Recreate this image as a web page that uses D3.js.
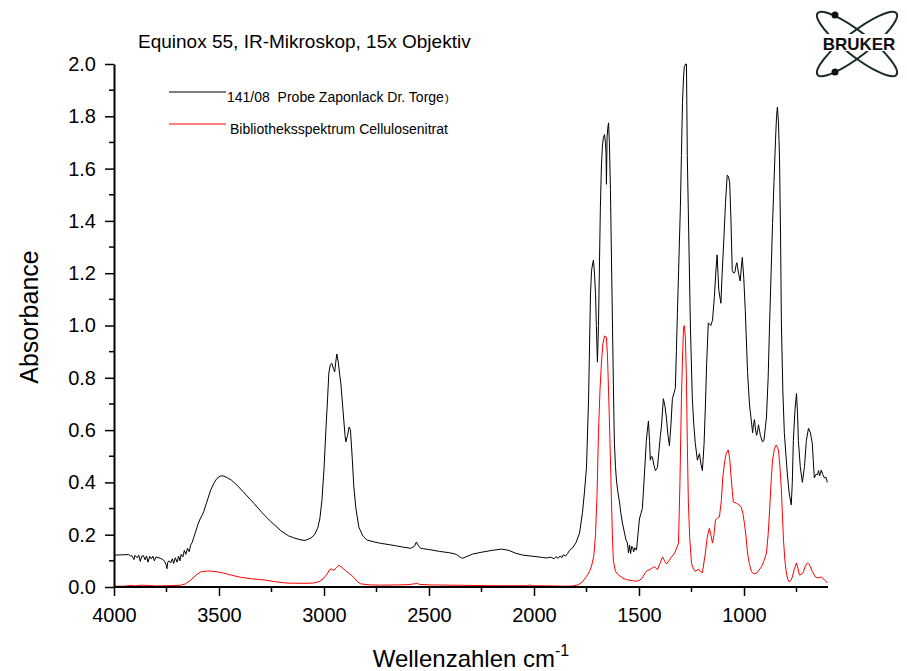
<!DOCTYPE html>
<html>
<head>
<meta charset="utf-8">
<script src="https://cdn.jsdelivr.net/npm/d3@7"></script>
<style>
  html, body { margin: 0; padding: 0; background: #fff; }
  svg { display: block; font-family: "Liberation Sans", Arial, sans-serif; }
  .legend-label { white-space: pre; }
</style>
</head>
<body>
<svg id="chart" width="907" height="671"></svg>
<script>
// Sample spectrum (black): [wavenumber cm-1, absorbance]
const sampleSpectrum = [
  [4000,0.122],[3960,0.123],[3930,0.124],[3920,0.118],[3915,0.12],[3905,0.105],[3900,0.121],[3890,0.112],
  [3882,0.122],[3875,0.098],[3868,0.118],[3860,0.12],[3852,0.104],[3845,0.119],[3838,0.095],[3830,0.117],
  [3822,0.108],[3815,0.118],[3808,0.1],[3800,0.115],[3790,0.112],[3780,0.11],[3770,0.106],[3760,0.1],
  [3752,0.085],[3748,0.07],[3744,0.095],[3738,0.1],[3730,0.092],[3722,0.108],[3716,0.09],[3708,0.112],
  [3700,0.095],[3692,0.118],[3686,0.1],[3680,0.125],[3672,0.115],[3665,0.14],[3658,0.125],[3650,0.148],
  [3642,0.135],[3635,0.16],[3628,0.17],[3620,0.19],[3610,0.215],[3600,0.24],[3590,0.26],[3580,0.275],
  [3572,0.29],[3560,0.32],[3540,0.37],[3524,0.397],[3510,0.415],[3495,0.424],[3480,0.425],[3460,0.418],
  [3440,0.408],[3415,0.39],[3380,0.36],[3334,0.32],[3290,0.28],[3253,0.25],[3205,0.215],[3170,0.196],
  [3144,0.188],[3110,0.18],[3090,0.178],[3063,0.187],[3045,0.2],[3030,0.225],[3020,0.26],[3010,0.33],
  [3000,0.45],[2991,0.6],[2983,0.72],[2977,0.818],[2970,0.85],[2963,0.856],[2955,0.835],[2949,0.823],
  [2944,0.86],[2939,0.891],[2932,0.86],[2925,0.81],[2920,0.78],[2910,0.68],[2900,0.58],[2896,0.555],
  [2888,0.58],[2880,0.612],[2874,0.6],[2866,0.5],[2858,0.383],[2848,0.3],[2834,0.229],[2815,0.195],
  [2796,0.18],[2760,0.172],[2730,0.167],[2690,0.162],[2654,0.157],[2620,0.152],[2587,0.148],[2570,0.155],
  [2560,0.172],[2552,0.16],[2540,0.148],[2525,0.146],[2497,0.143],[2450,0.136],[2402,0.131],[2370,0.125],
  [2350,0.113],[2340,0.11],[2325,0.115],[2292,0.126],[2250,0.133],[2200,0.14],[2154,0.145],[2120,0.14],
  [2090,0.13],[2054,0.122],[2000,0.117],[1960,0.113],[1940,0.111],[1920,0.114],[1905,0.108],[1895,0.116],
  [1885,0.11],[1875,0.119],[1868,0.112],[1860,0.123],[1850,0.118],[1840,0.128],[1831,0.14],[1816,0.15],
  [1800,0.17],[1783,0.206],[1769,0.286],[1760,0.36],[1750,0.458],[1740,0.723],[1731,1.12],[1726,1.21],
  [1720,1.24],[1717,1.25],[1712,1.2],[1707,1.12],[1703,1.0],[1698,0.86],[1693,1.0],[1688,1.25],
  [1684,1.45],[1679,1.61],[1674,1.69],[1669,1.72],[1664,1.73],[1660,1.7],[1657,1.66],[1655,1.54],
  [1652,1.72],[1648,1.76],[1645,1.775],[1641,1.7],[1636,1.52],[1631,1.25],[1626,0.99],[1621,0.72],
  [1617,0.55],[1612,0.46],[1607,0.405],[1600,0.36],[1593,0.325],[1586,0.28],[1579,0.245],[1569,0.207],
  [1562,0.18],[1555,0.168],[1550,0.13],[1545,0.16],[1540,0.128],[1535,0.155],[1531,0.153],[1525,0.135],
  [1520,0.15],[1512,0.141],[1505,0.2],[1498,0.26],[1491,0.28],[1484,0.3],[1475,0.42],[1465,0.56],
  [1460,0.6],[1455,0.635],[1450,0.56],[1446,0.485],[1441,0.5],[1436,0.497],[1430,0.47],[1422,0.445],
  [1417,0.45],[1412,0.458],[1405,0.52],[1398,0.58],[1393,0.615],[1384,0.72],[1376,0.69],[1369,0.643],
  [1362,0.58],[1355,0.54],[1348,0.62],[1341,0.72],[1334,0.74],[1327,0.76],[1322,0.9],[1317,1.05],
  [1310,1.25],[1303,1.45],[1298,1.65],[1293,1.85],[1288,1.95],[1284,1.99],[1278,2.0],[1274,2.0],
  [1270,1.65],[1262,1.3],[1255,0.99],[1246,0.72],[1239,0.62],[1232,0.55],[1222,0.485],[1212,0.51],
  [1205,0.47],[1198,0.445],[1190,0.55],[1184,0.69],[1178,0.85],[1170,1.01],[1158,1.0],[1150,1.02],
  [1141,1.11],[1133,1.22],[1128,1.27],[1124,1.2],[1120,1.135],[1110,1.085],[1104,1.2],[1096,1.33],
  [1088,1.47],[1080,1.575],[1074,1.57],[1068,1.545],[1062,1.4],[1056,1.21],[1049,1.2],[1043,1.205],
  [1038,1.23],[1034,1.24],[1026,1.2],[1018,1.17],[1013,1.22],[1008,1.26],[1001,1.18],[994,1.06],
  [983,0.82],[974,0.7],[964,0.627],[959,0.59],[955,0.62],[950,0.64],[945,0.6],[940,0.58],
  [935,0.6],[931,0.62],[922,0.58],[912,0.555],[905,0.56],[893,0.65],[885,0.8],[878,1.01],
  [871,1.2],[864,1.39],[857,1.55],[850,1.71],[845,1.8],[841,1.835],[836,1.78],[831,1.645],
  [826,1.35],[822,1.01],[815,0.75],[808,0.59],[800,0.5],[794,0.436],[785,0.36],[775,0.314],
  [770,0.4],[765,0.56],[757,0.68],[750,0.74],[745,0.66],[741,0.56],[732,0.46],[722,0.4],
  [712,0.46],[703,0.56],[693,0.607],[684,0.59],[675,0.55],[670,0.48],[665,0.417],[658,0.43],
  [650,0.43],[645,0.445],[640,0.425],[632,0.447],[625,0.43],[617,0.417],[610,0.42],[603,0.4]
];

// Library reference spectrum (red): cellulose nitrate
const librarySpectrum = [
  [4000,0.003],[3950,0.003],[3920,0.006],[3900,0.004],[3870,0.007],[3840,0.006],[3800,0.004],[3750,0.005],
  [3700,0.006],[3681,0.007],[3660,0.012],[3634,0.027],[3610,0.045],[3586,0.058],[3560,0.061],[3539,0.061],
  [3510,0.058],[3477,0.053],[3440,0.045],[3396,0.037],[3340,0.031],[3286,0.027],[3230,0.02],[3177,0.015],
  [3100,0.014],[3049,0.015],[3020,0.022],[3001,0.034],[2985,0.05],[2972,0.068],[2963,0.068],[2953,0.063],
  [2940,0.075],[2929,0.083],[2915,0.075],[2891,0.058],[2870,0.045],[2858,0.037],[2840,0.02],[2825,0.012],
  [2780,0.008],[2730,0.007],[2650,0.008],[2600,0.009],[2570,0.012],[2558,0.014],[2545,0.01],[2500,0.008],
  [2400,0.007],[2300,0.006],[2200,0.005],[2100,0.005],[2030,0.005],[2021,0.008],[2010,0.005],[1900,0.004],
  [1850,0.003],[1816,0.004],[1790,0.008],[1769,0.02],[1750,0.04],[1735,0.06],[1726,0.08],[1715,0.12],
  [1707,0.2],[1700,0.35],[1693,0.59],[1686,0.75],[1679,0.856],[1672,0.93],[1664,0.96],[1655,0.955],
  [1650,0.88],[1645,0.75],[1638,0.55],[1631,0.325],[1626,0.18],[1622,0.1],[1612,0.06],[1603,0.05],
  [1580,0.035],[1560,0.028],[1530,0.024],[1512,0.022],[1495,0.027],[1484,0.035],[1470,0.055],[1465,0.06],
  [1446,0.068],[1427,0.078],[1412,0.067],[1400,0.09],[1388,0.115],[1378,0.1],[1369,0.088],[1358,0.1],
  [1346,0.114],[1330,0.13],[1322,0.146],[1312,0.167],[1305,0.4],[1298,0.72],[1292,0.9],[1288,0.99],
  [1284,1.0],[1279,0.95],[1274,0.79],[1270,0.55],[1265,0.325],[1258,0.18],[1250,0.09],[1240,0.068],
  [1232,0.06],[1217,0.068],[1205,0.058],[1198,0.055],[1184,0.13],[1175,0.19],[1165,0.225],[1158,0.2],
  [1150,0.168],[1143,0.2],[1136,0.256],[1125,0.265],[1117,0.268],[1108,0.33],[1101,0.42],[1092,0.48],
  [1085,0.51],[1075,0.524],[1068,0.49],[1063,0.436],[1056,0.37],[1051,0.325],[1036,0.32],[1025,0.315],
  [1013,0.306],[1005,0.28],[998,0.244],[990,0.19],[983,0.13],[975,0.09],[964,0.058],[952,0.05],
  [940,0.053],[928,0.065],[917,0.077],[905,0.1],[893,0.13],[885,0.2],[878,0.294],[871,0.4],
  [864,0.486],[855,0.53],[846,0.543],[836,0.524],[829,0.46],[822,0.371],[812,0.18],[805,0.1],
  [799,0.058],[792,0.03],[784,0.019],[777,0.025],[770,0.038],[760,0.07],[750,0.092],[743,0.07],
  [736,0.046],[727,0.048],[717,0.058],[708,0.08],[698,0.092],[688,0.085],[674,0.058],[665,0.045],
  [660,0.038],[645,0.035],[632,0.038],[620,0.03],[610,0.022],[603,0.015]
];

const xMajorTicks = [4000, 3500, 3000, 2500, 2000, 1500, 1000];
const xMinorTicks = [3750, 3250, 2750, 2250, 1750, 1250, 750];
const yMajorTicks = [0.0, 0.2, 0.4, 0.6, 0.8, 1.0, 1.2, 1.4, 1.6, 1.8, 2.0];
const yMinorTicks = [0.1, 0.3, 0.5, 0.7, 0.9, 1.1, 1.3, 1.5, 1.7, 1.9];

const seriesNames = ["141/08  Probe Zaponlack Dr. Torge", "Bibliotheksspektrum Cellulosenitrat"];
const seriesColors = ["#000000", "#ff0000"];

const svg = d3.select("#chart");
const x = d3.scaleLinear().domain([4000, 600]).range([114, 828]);
const y = d3.scaleLinear().domain([0, 2]).range([587, 64]);

svg.append("defs").append("clipPath").attr("id", "plotClip")
  .append("rect").attr("x", 114).attr("y", 63).attr("width", 716).attr("height", 526);

const line = d3.line().x(d => x(d[0])).y(d => y(d[1]));

const plot = svg.append("g").attr("clip-path", "url(#plotClip)");
plot.append("path").datum(librarySpectrum)
  .attr("d", line).attr("fill", "none").attr("stroke", seriesColors[1]).attr("stroke-width", 1);
plot.append("path").datum(sampleSpectrum)
  .attr("d", line).attr("fill", "none").attr("stroke", seriesColors[0]).attr("stroke-width", 1);

// Bottom axis
const xAxis = svg.append("g").attr("transform", `translate(0,${y(0)})`);
xAxis.call(d3.axisBottom(x).tickValues(xMajorTicks).tickFormat(d3.format("d")).tickSizeInner(9).tickSizeOuter(0).tickPadding(12));
xAxis.append("g").selectAll("line").data(xMinorTicks).join("line")
  .attr("x1", d => x(d)).attr("x2", d => x(d)).attr("y1", 0).attr("y2", 5)
  .attr("stroke", "#000").attr("stroke-width", 1.5);
xAxis.select(".domain").attr("d", `M${x(4000)},0H${x(600)}`);

// Left axis
const yAxis = svg.append("g").attr("transform", `translate(${x(4000)},0)`);
yAxis.call(d3.axisLeft(y).tickValues(yMajorTicks).tickFormat(d3.format(".1f")).tickSizeInner(9).tickSizeOuter(0).tickPadding(9));
yAxis.append("g").selectAll("line").data(yMinorTicks).join("line")
  .attr("y1", d => y(d)).attr("y2", d => y(d)).attr("x1", 0).attr("x2", -5)
  .attr("stroke", "#000").attr("stroke-width", 1.5);

svg.selectAll(".domain").attr("stroke", "#000").attr("stroke-width", 2);
svg.selectAll(".tick line").attr("stroke", "#000").attr("stroke-width", 1.5);
svg.selectAll(".tick text").attr("font-size", 20).attr("fill", "#000")
  .attr("font-family", "'Liberation Sans', Arial, sans-serif");

// Axis titles
svg.append("text").attr("transform", "translate(38,317) rotate(-90)")
  .attr("text-anchor", "middle").attr("font-size", 25).text("Absorbance");
const xt = svg.append("text").attr("x", 471).attr("y", 667)
  .attr("text-anchor", "middle").attr("font-size", 24);
xt.append("tspan").text("Wellenzahlen cm");
xt.append("tspan").attr("font-size", 16).attr("dy", -11).text("-1");

// Title
svg.append("text").attr("x", 138).attr("y", 48).attr("font-size", 19).text("Equinox 55, IR-Mikroskop, 15x Objektiv");

// Legend
const legendY = [92, 124];
const legendText = [];
seriesNames.forEach((name, i) => {
  svg.append("line").attr("x1", 169).attr("x2", 226).attr("y1", legendY[i]).attr("y2", legendY[i])
    .attr("stroke", seriesColors[i]).attr("stroke-width", 1);
  legendText.push(svg.append("text").attr("class", "legend-label")
    .attr("x", i === 0 ? 227 : 230).attr("y", legendY[i] + 10)
    .attr("font-size", 14).text(name));
});
legendText[0].append("tspan").attr("font-size", 11).attr("dx", 1).text(")");

// Bruker logo
const logo = svg.append("g").attr("transform", "translate(857,44)");
[-38, 38].forEach(a => {
  logo.append("ellipse").attr("rx", 50).attr("ry", 12).attr("fill", "none")
    .attr("stroke", "#1a2a2a").attr("stroke-width", 2).attr("transform", `rotate(${a})`);
});
logo.append("rect").attr("x", -46).attr("y", -10).attr("width", 96).attr("height", 17).attr("fill", "#fff");
logo.append("text").attr("x", 2).attr("y", 6).attr("text-anchor", "middle")
  .attr("font-size", 17).attr("font-weight", "bold").attr("fill", "#111").text("BRUKER");
logo.append("circle").attr("cx", -22).attr("cy", -29).attr("r", 3.5).attr("fill", "#111");
logo.append("circle").attr("cx", -22).attr("cy", 28).attr("r", 3.5).attr("fill", "#111");
</script>
</body>
</html>
